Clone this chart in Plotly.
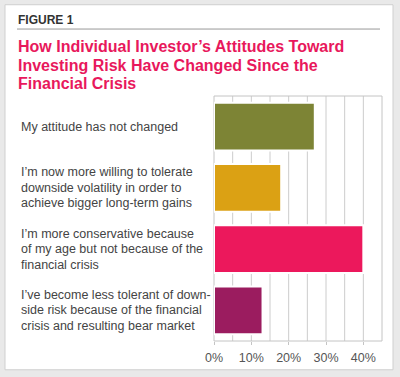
import plotly.graph_objects as go

categories = [
    "My attitude has not changed",
    "I’m now more willing to tolerate<br>downside volatility in order to<br>achieve bigger long-term gains",
    "I’m more conservative because<br>of my age but not because of the<br>financial crisis",
    "I’ve become less tolerant of down-<br>side risk because of the financial<br>crisis and resulting bear market",
]
values = [27, 18, 40, 13]
colors = ["#7d8435", "#dba114", "#ec185c", "#9b1c5f"]
tick_vals = [0, 10, 20, 30, 40]
tick_text = ["0%", "10%", "20%", "30%", "40%"]

W, H = 400, 377
L, R, T, B = 214, 18, 96, 34
pw = W - L - R
ph = H - T - B


def px2x(px):
    return (px - L) / pw


def py2y(py):
    return 1 - (py - T) / ph


fig = go.Figure()
fig.add_trace(go.Bar(
    y=categories, x=values, orientation="h",
    marker=dict(color=colors, line=dict(color="white", width=2)),
    width=0.78, hoverinfo="skip",
))

fig.update_layout(
    width=W, height=H,
    margin=dict(l=L, r=R, t=T, b=B),
    paper_bgcolor="#e9e9e9", plot_bgcolor="white",
    showlegend=False,
    font=dict(family="Liberation Sans, Arial, sans-serif", color="#444"),
    xaxis=dict(range=[0, 45], tickvals=tick_vals, ticktext=tick_text,
               showgrid=False, zeroline=False, showline=False,
               tickfont=dict(size=12.5, color="#555"), ticks="outside", ticklen=3,
               tickcolor="#c4c4c4", ticklabelstandoff=2, fixedrange=True),
    yaxis=dict(autorange="reversed", showticklabels=False, showgrid=False,
               zeroline=False, showline=False, fixedrange=True),
)

shapes = []
# white card
shapes.append(dict(type="rect", xref="paper", yref="paper",
                   x0=px2x(5), x1=px2x(393), y0=py2y(372), y1=py2y(4),
                   fillcolor="white", line=dict(color="#cfcfcf", width=1), layer="below"))
# rule under FIGURE 1
shapes.append(dict(type="line", xref="paper", yref="paper",
                   x0=px2x(17), x1=px2x(380), y0=py2y(28.5), y1=py2y(28.5),
                   line=dict(color="#999", width=1)))
# gridlines every 5%
for g in range(5, 45, 5):
    shapes.append(dict(type="line", xref="x", yref="paper", x0=g, x1=g, y0=0, y1=1,
                       line=dict(color="#cccccc", width=1), layer="below"))
# plot box
shapes.append(dict(type="rect", xref="paper", yref="paper", x0=0, x1=1, y0=0, y1=1,
                   line=dict(color="#c4c4c4", width=1), layer="below"))
fig.update_layout(shapes=shapes)

annotations = []
annotations.append(dict(text="<b>FIGURE 1</b>", xref="paper", yref="paper",
                        x=px2x(16), y=py2y(19.5), xanchor="left", yanchor="middle",
                        showarrow=False, font=dict(size=12, color="#333")))
title_lines = ["How Individual Investor’s Attitudes Toward",
               "Investing Risk Have Changed Since the",
               "Financial Crisis"]
for i, t in enumerate(title_lines):
    annotations.append(dict(text="<b>" + t + "</b>", xref="paper", yref="paper",
                            x=px2x(16), y=py2y(46.5 + 18.3 * i), xanchor="left",
                            yanchor="middle", showarrow=False,
                            font=dict(size=16, color="#e8185c")))
line_step = 15.7 / (ph / len(categories))
for ci, c in enumerate(categories):
    parts = c.split("<br>")
    n = len(parts)
    for li, p in enumerate(parts):
        annotations.append(dict(text=p, xref="paper", yref="y", x=px2x(19),
                                y=ci + (li - (n - 1) / 2) * line_step,
                                xanchor="left", yanchor="middle", align="left",
                                showarrow=False, font=dict(size=12.5, color="#444")))
fig.update_layout(annotations=annotations)

fig.write_html("out.html", config={"displayModeBar": False},
               post_script="document.body.style.margin='0';document.body.style.overflow='hidden';")
